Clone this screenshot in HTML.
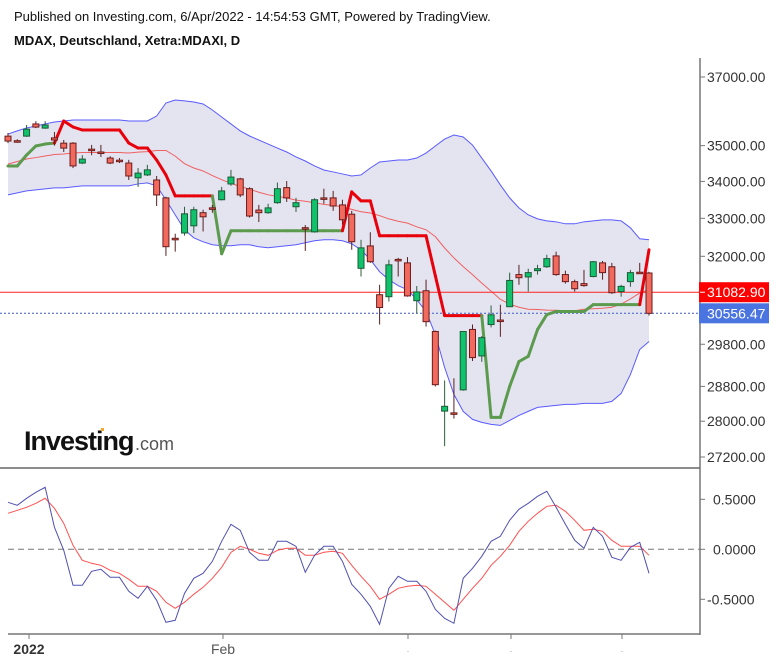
<!DOCTYPE html>
<html><head><meta charset="utf-8">
<style>
html,body{margin:0;padding:0;background:#fff;}
body{width:776px;height:663px;overflow:hidden;font-family:"Liberation Sans",sans-serif;}
svg text{font-family:"Liberation Sans",sans-serif;}
</style></head>
<body>
<svg id="chart" width="776" height="663" viewBox="0 0 776 663">
<text x="14" y="21" font-size="13" fill="#111">Published on Investing.com, 6/Apr/2022 - 14:54:53 GMT, Powered by TradingView.</text>
<text x="14" y="45" font-size="13" font-weight="bold" fill="#111">MDAX, Deutschland, Xetra:MDAXI, D</text>
<g id="bands"></g>
<g id="stops"></g>
<g id="candles"></g>
<g id="osc"></g>
<g id="axes"></g>
<g>
<text x="24" y="450" font-size="27" font-weight="bold" fill="#111" letter-spacing="-1">Investing</text>
<text x="135" y="450" font-size="18" fill="#555">.com</text>
<rect x="101" y="428" width="3" height="3" fill="#f5a623"/>
</g>
</svg>
<script>
const opens=[35270,35140,35270,35620,35500,35220,35070,35070,34510,34900,34820,34650,34590,34510,34100,34180,34040,33550,32470,32610,32800,33150,33280,33500,33930,34070,33800,33220,33150,33420,33830,33310,32750,32640,33550,33550,33360,33110,31690,32270,31020,30970,31920,31830,30870,31120,30110,28230,28190,28720,30160,29520,30280,30390,30720,31530,31470,31630,31730,32010,31530,31350,31300,31480,31830,31730,31100,31350,31590,31570];
const highs=[35360,35180,35590,35700,35700,35390,35160,35100,34730,35020,35020,34700,34650,34600,34370,34460,34150,33580,32590,33310,33310,33230,33360,33850,34320,34100,33840,33360,33390,33970,34010,33550,32820,33540,33800,33740,33500,33200,32430,32630,31270,31910,31960,31980,31240,31400,30130,28940,28990,30110,30280,30000,30750,30770,31580,31780,31680,31780,32040,32120,31630,31400,31650,31880,31880,31830,31270,31650,31830,31600];
const lows=[35070,35080,35250,35500,35480,35000,34820,34370,34480,34730,34680,34480,34510,34040,33850,34150,33330,32010,32120,32540,32610,32650,33150,33480,33880,33570,33020,32900,33120,33390,33440,33170,32140,32620,33390,33200,32830,32170,31480,31830,30280,30850,31480,30970,30550,30230,28800,27440,28060,28700,29400,29380,30210,29980,30720,31270,31100,31530,31700,31500,31300,31100,31220,31460,31400,31040,30970,31220,31560,30500];
const closes=[35130,35120,35470,35530,35590,35160,34930,34430,34620,34860,34790,34510,34550,34150,34230,34320,33630,32250,32430,33120,33230,33040,33260,33740,34120,33630,33060,33150,33280,33800,33550,33420,32730,33500,33520,33330,32960,32380,32220,31860,30700,31780,31900,30990,31090,30350,28840,28340,28160,30110,29480,29960,30520,30370,31380,31450,31580,31680,31940,31530,31350,31170,31250,31860,31580,31070,31230,31580,31580,30556];
const bandUpper=[35330,35420,35505,35560,35620,35675,35705,35734,35734,35734,35734,35734,35734,35705,35705,35705,35849,36229,36317,36290,36260,36200,36025,35820,35620,35420,35274,35159,35045,34932,34820,34680,34567,34428,34317,34262,34207,34151,34179,34372,34540,34567,34595,34595,34650,34790,34990,35187,35302,35245,35017,34650,34290,33904,33550,33280,33092,32985,32932,32906,32853,32853,32906,32932,32959,32959,32932,32747,32457,32431];
const bandLower=[33631,33685,33740,33767,33795,33822,33822,33849,33877,33877,33877,33877,33877,33877,33931,33959,33877,33496,33092,32694,32483,32378,32300,32274,32274,32300,32300,32248,32222,32248,32274,32300,32352,32405,32431,32431,32405,32326,32170,31911,31603,31400,31248,31147,30896,30600,30036,29245,28614,28224,28041,27973,27928,27905,28018,28132,28224,28315,28338,28361,28384,28384,28407,28407,28407,28453,28637,29080,29674,29866];
const stopVals=[34428,34428,34735,34990,35045,35073,35705,35532,35446,35446,35446,35446,35446,35073,34932,34932,34595,34179,33604,33604,33604,33604,33604,32066,32668,32668,32668,32668,32668,32668,32668,32668,32668,32668,32668,32668,32668,33713,33469,33469,32536,32536,32536,32536,32536,32536,31500,30500,30500,30500,30500,30500,28086,28086,28800,29387,29510,30157,30525,30600,30600,30600,30600,30772,30772,30772,30772,30772,30772,32170];
const stopTrend=["up","up","up","up","up","up","down","down","down","down","down","down","down","down","down","down","down","down","down","down","down","down","down","up","up","up","up","up","up","up","up","up","up","up","up","up","up","down","down","down","down","down","down","down","down","down","down","down","down","down","down","down","up","up","up","up","up","up","up","up","up","up","up","up","up","up","up","up","up","down"];
const oscMain=[0.47,0.44,0.51,0.57,0.62,0.22,-0.01,-0.36,-0.36,-0.22,-0.20,-0.28,-0.28,-0.42,-0.49,-0.37,-0.51,-0.73,-0.71,-0.44,-0.29,-0.24,-0.12,0.08,0.25,0.19,-0.03,-0.11,-0.11,0.08,0.08,0.03,-0.23,-0.06,0.03,0.03,-0.12,-0.35,-0.45,-0.57,-0.75,-0.39,-0.27,-0.32,-0.32,-0.42,-0.60,-0.69,-0.74,-0.29,-0.19,-0.07,0.08,0.13,0.29,0.40,0.46,0.53,0.58,0.42,0.25,0.09,0.01,0.22,0.13,-0.08,-0.11,0.02,0.07,-0.24];
const oscSignal=[0.36,0.39,0.42,0.46,0.51,0.41,0.26,0.04,-0.11,-0.14,-0.16,-0.21,-0.24,-0.30,-0.37,-0.37,-0.42,-0.53,-0.59,-0.53,-0.45,-0.38,-0.29,-0.18,-0.03,0.03,0.00,-0.04,-0.06,-0.01,0.01,0.01,-0.06,-0.06,-0.03,-0.02,-0.04,-0.16,-0.27,-0.37,-0.50,-0.45,-0.39,-0.37,-0.36,-0.37,-0.45,-0.53,-0.61,-0.50,-0.39,-0.29,-0.16,-0.07,0.04,0.18,0.28,0.36,0.43,0.44,0.38,0.29,0.19,0.20,0.18,0.09,0.03,0.03,0.03,-0.06];
const priceTicks=[37000,35000,34000,33000,32000,29800,28800,28000,27200];
const oscTicks=[0.5,0,-0.5];
const lastClose=30556.47;
const refLevel=31082.90;

const NS="http://www.w3.org/2000/svg";
function mk(tag,attrs,parent){const e=document.createElementNS(NS,tag);for(const k in attrs)e.setAttribute(k,attrs[k]);parent.appendChild(e);return e;}
const xOf=i=>8+9.29*i;
const yP=p=>77+(Math.log(37000)-Math.log(p))*1235;
const yO=v=>549.3-v*100;
const n=closes.length;

// bands
const gB=document.getElementById('bands');
let fillPts=[];
for(let i=0;i<n;i++)fillPts.push(xOf(i)+','+yP(bandUpper[i]));
for(let i=n-1;i>=0;i--)fillPts.push(xOf(i)+','+yP(bandLower[i]));
let bf=mk('polygon',{points:fillPts.join(' '),fill:'#e3e4f0',stroke:'none'},gB);


const up=bandUpper.map((v,i)=>xOf(i)+','+yP(v)).join(' ');
const lo=bandLower.map((v,i)=>xOf(i)+','+yP(v)).join(' ');
const mid=bandUpper.map((v,i)=>xOf(i)+','+yP((v+bandLower[i])/2)).join(' ');
let bu=mk('polyline',{points:up,fill:'none',stroke:'#5a5aff','stroke-width':1},gB);


let bl=mk('polyline',{points:lo,fill:'none',stroke:'#5a5aff','stroke-width':1},gB);


let bm=mk('polyline',{points:mid,fill:'none',stroke:'#f06060','stroke-width':1},gB);



// reference lines
let rl=mk('line',{x1:0,x2:700,y1:yP(refLevel),y2:yP(refLevel),stroke:'#ff2020','stroke-width':1},gB);


let ll=mk('line',{x1:0,x2:700,y1:yP(lastClose),y2:yP(lastClose),stroke:'#3a5fd0','stroke-width':1,'stroke-dasharray':'2,2'},gB);



// stops
const gS=document.getElementById('stops');
for(let i=1;i<n;i++){
  const red=stopTrend[i]==='down';
  let s=mk('line',{x1:xOf(i-1),y1:yP(stopVals[i-1]),x2:xOf(i),y2:yP(stopVals[i]),stroke:red?'#e8000b':'#5c9a4e','stroke-width':red?3:3,'stroke-linecap':'round'},gS);
  
  
}

// candles
const gC=document.getElementById('candles');
for(let i=0;i<n;i++){
  const o=opens[i],c=closes[i],h=highs[i],l=lows[i];
  const bull=c>o;
  const x=xOf(i);
  const g=mk('g',{},gC);
  
  
  mk('line',{x1:x,x2:x,y1:yP(h),y2:yP(l),stroke:bull?'#2e5e3e':'#5a2020','stroke-width':1},g);
  const top=yP(Math.max(o,c)),bot=yP(Math.min(o,c));
  mk('rect',{x:x-3,y:top,width:6,height:Math.max(1.5,bot-top),fill:bull?'#0fc26b':'#f26a5d',stroke:bull?'#1d5a36':'#6b1c1c','stroke-width':1},g);
}

// oscillator
const gO=document.getElementById('osc');
let z=mk('line',{x1:8,x2:700,y1:yO(0),y2:yO(0),stroke:'#777','stroke-width':1,'stroke-dasharray':'6,4'},gO);


let os=mk('polyline',{points:oscSignal.map((v,i)=>xOf(i)+','+yO(v)).join(' '),fill:'none',stroke:'#ff5050','stroke-width':1},gO);


let om=mk('polyline',{points:oscMain.map((v,i)=>xOf(i)+','+yO(v)).join(' '),fill:'none',stroke:'#5050b0','stroke-width':1},gO);



// axes
const gA=document.getElementById('axes');
mk('line',{x1:700,x2:700,y1:58,y2:635,stroke:'#777','stroke-width':1.5},gA);
mk('line',{x1:0,x2:700,y1:468,y2:468,stroke:'#666','stroke-width':1.5},gA);
mk('line',{x1:8,x2:700,y1:634,y2:634,stroke:'#777','stroke-width':1.5},gA);
priceTicks.forEach(p=>{
  const y=yP(p);
  mk('line',{x1:700,x2:705,y1:y,y2:y,stroke:'#777'},gA);
  const t=mk('text',{x:707,y:y+5,'font-size':14,fill:'#333'},gA);
  t.textContent=p.toFixed(2);
  
  
});
oscTicks.forEach(v=>{
  const y=yO(v);
  mk('line',{x1:700,x2:705,y1:y,y2:y,stroke:'#777'},gA);
  const t=mk('text',{x:v<0?707:713,y:y+5,'font-size':14,fill:'#333'},gA);
  t.textContent=v.toFixed(4);
  
  
});
// price labels
let r1=mk('rect',{x:699,y:yP(refLevel)-10,width:70,height:20,fill:'#ff0000'},gA);


mk('line',{x1:700,x2:705,y1:yP(refLevel),y2:yP(refLevel),stroke:'#fff'},gA);
let t1=mk('text',{x:707,y:yP(refLevel)+5,'font-size':14,fill:'#fff'},gA);
t1.textContent=refLevel.toFixed(2);
let r2=mk('rect',{x:699,y:yP(lastClose)-10,width:70,height:20,fill:'#4a74e0'},gA);


let t2=mk('text',{x:707,y:yP(lastClose)+5,'font-size':14,fill:'#fff'},gA);
t2.textContent=lastClose.toFixed(2);
// time axis
[[29,'2022',true],[223,'Feb',false],[408,'',false],[511,'',false],[622,'',false]].forEach(d=>{
  mk('line',{x1:d[0],x2:d[0],y1:634,y2:639,stroke:'#777'},gA);
  if(d[1]){
    const t=mk('text',{x:d[0],y:654,'font-size':14,'text-anchor':'middle',fill:d[2]?'#333':'#555','font-weight':d[2]?'bold':'normal'},gA);
    t.textContent=d[1];
    
    
  } else {
    mk('rect',{x:d[0]-0.5,y:651,width:1,height:1,fill:'#aaa'},gA);
  }
});
</script>
</body></html>
